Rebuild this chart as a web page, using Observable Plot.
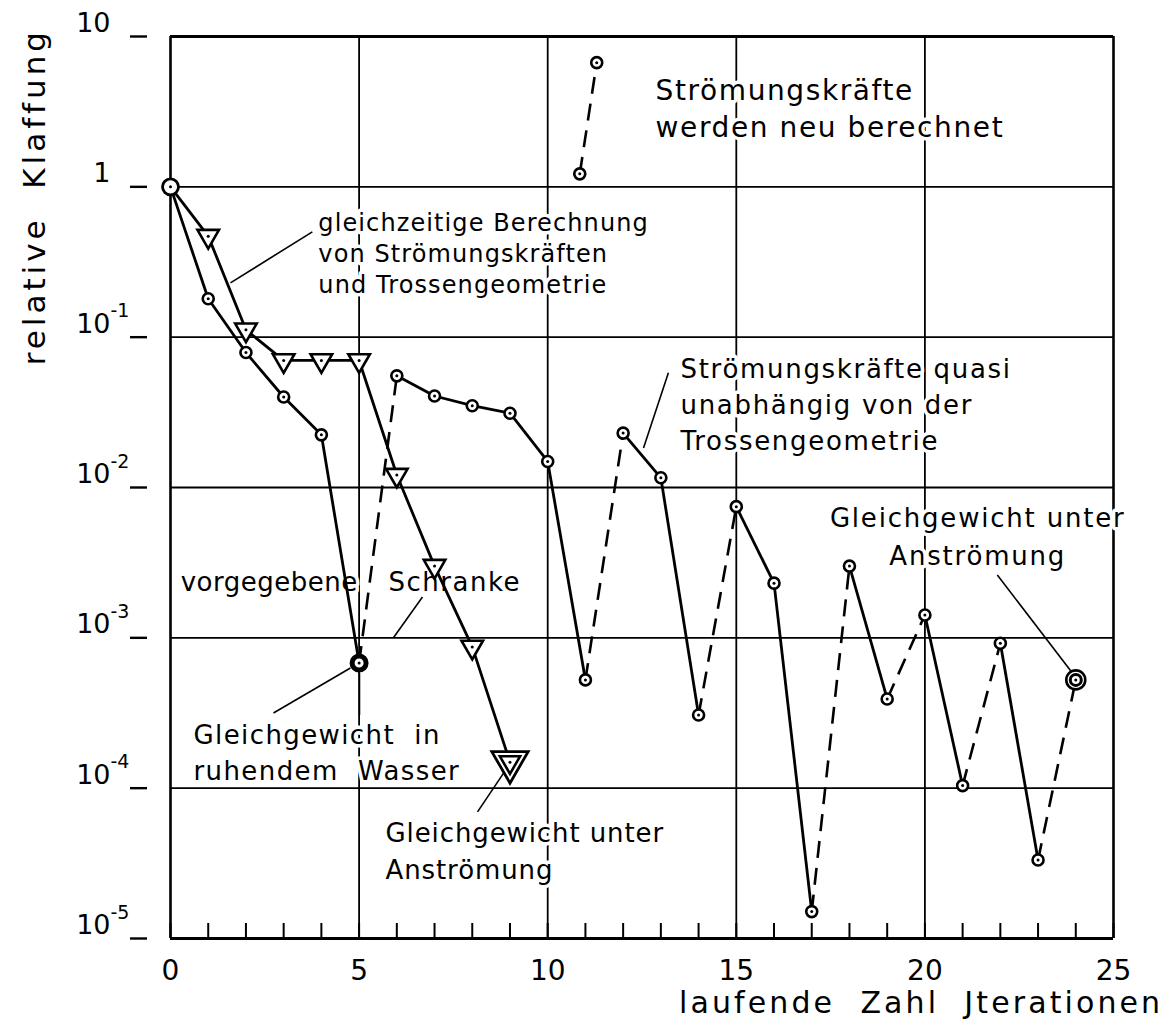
<!DOCTYPE html>
<html><head><meta charset="utf-8">
<script src="https://cdn.jsdelivr.net/npm/d3@7"></script>
<script src="https://cdn.jsdelivr.net/npm/@observablehq/plot@0.6"></script>
<style>
body{margin:0;background:#fff}
g[aria-description="ann-top"] text{letter-spacing:1.6px}
g[aria-description="ann-coupled"] text{letter-spacing:1.1px}
g[aria-description="ann-quasi"] text{letter-spacing:1.7px}
g[aria-description="ann-eq-right"] text{letter-spacing:1.8px}
g[aria-description="ann-vorg"] text{letter-spacing:0.5px}
g[aria-description="ann-schranke"] text{letter-spacing:1.5px}
g[aria-description="ann-ruhend"] text{letter-spacing:1.4px}
g[aria-description="ann-eq-low"] text{letter-spacing:0.9px}
g[aria-description="title-y"] text{letter-spacing:4px}
g[aria-description="title-x"] text{letter-spacing:3.1px}
</style>
</head><body><div id="chart"></div>
<script>
// ---- data ----
const iterStill = [0, 1, 2, 3, 4, 5];
const klaffStill = [1, 0.18, 0.079, 0.040, 0.0224, 0.00068];

const iterCoupled = [0, 1, 2, 3, 4, 5, 6, 7, 8, 9];
const klaffCoupled = [1, 0.47, 0.112, 0.070, 0.070, 0.070, 0.0121, 0.0030, 0.00087, 0.000149];

const iterFlow = [5, 6, 7, 8, 9, 10, 11, 12, 13, 14, 15, 16, 17, 18, 19, 20, 21, 22, 23, 24];
const klaffFlow = [0.00068, 0.0553, 0.0406, 0.035, 0.0312, 0.0149, 0.000525, 0.023, 0.0116, 0.000307,
                   0.00746, 0.00231, 0.0000151, 0.0030, 0.000392, 0.00142, 0.000104, 0.00092, 0.0000333, 0.000525];

const iterRecalc = [10.85, 11.3];
const klaffRecalc = [1.22, 6.7];

const xGrid = [0, 5, 10, 15, 20, 25];
const xTickLabels = ["0", "5", "10", "15", "20", "25"];
const xMinorTicks = [0,1,2,3,4,5,6,7,8,9,10,11,12,13,14,15,16,17,18,19,20,21,22,23,24,25];
const yTicks = [10, 1, 0.1, 0.01, 0.001, 0.0001, 0.00001];
const yTickBase = ["10", "1", "10", "10", "10", "10", "10"];
const yTickExp = ["", "", "-1", "-2", "-3", "-4", "-5"];

// ---- helpers ----
const pts = (xs, ys) => xs.map((x, i) => ({x, y: ys[i]}));
const segs = (p) => p.slice(1).map((d, i) => ({x1: p[i].x, y1: p[i].y, x2: d.x, y2: d.y}));

const still = pts(iterStill, klaffStill);
const coupled = pts(iterCoupled, klaffCoupled);
const flow = pts(iterFlow, klaffFlow);
const recalc = pts(iterRecalc, klaffRecalc);
const flowSegs = segs(flow);
const flowUp = flowSegs.filter(s => s.y2 > s.y1);
const flowDown = flowSegs.filter(s => s.y2 <= s.y1);

const F = "DejaVu Sans";
const ann = (data, o) => Plot.text(data, {fontFamily: F, fill: "black", stroke: "white", strokeWidth: 7,
  paintOrder: "stroke", lineAnchor: "middle", textAnchor: "start", ...o});

const chart = Plot.plot({
  width: 1174, height: 1030,
  marginLeft: 170, marginRight: 61, marginTop: 36, marginBottom: 92,
  style: {fontFamily: F, background: "white", color: "black"},
  x: {domain: [0, 25], axis: null},
  y: {type: "log", domain: [0.00001, 10], axis: null},
  marks: [
    // grid & frame
    Plot.ruleX(xGrid, {x: d => d, stroke: "black", strokeWidth: d => (d === 0 || d === 25) ? 2.6 : 1.8}),
    Plot.ruleY(yTicks, {y: d => d, stroke: "black", strokeWidth: d => (d === 10 || d === 0.00001) ? 2.8 : 1.8}),
    // axis ticks
    Plot.ruleX(xMinorTicks, {x: d => d, y1: 0.00001, y2: 0.00001, insetTop: -15, stroke: "black", strokeWidth: 2}),
    Plot.ruleY(yTicks, {y: d => d, x1: 0, x2: 0, insetLeft: -40, insetRight: 23, stroke: "black", strokeWidth: 2.4}),
    Plot.text(yTicks, {x: 0, y: d => d, text: (d, i) => yTickBase[i], textAnchor: "end", dx: -60, dy: -13,
      fontSize: 27, fontFamily: F}),
    Plot.text(yTicks, {x: 0, y: d => d, text: (d, i) => yTickExp[i], textAnchor: "start", dx: -60, dy: -26,
      fontSize: 19, fontFamily: F}),
    Plot.text(xGrid, {x: d => d, y: 0.00001, text: (d, i) => xTickLabels[i], dy: 33, fontSize: 28, fontFamily: F}),
    // axis titles
    Plot.text(["relative  Klaffung"], {x: -3.6, y: 0.86, rotate: -90, fontSize: 31, fontFamily: F, ariaDescription: "title-y"}),
    Plot.text(["laufende  Zahl  Jterationen"], {x: 19.9, y: 0.0000037, fontSize: 30, fontFamily: F, ariaDescription: "title-x"}),

    // annotations
    ann(["Strömungskräfte\nwerden neu berechnet"], {x: 12.86, y: 3.4, fontSize: 28, lineHeight: 1.32, ariaDescription: "ann-top"}),
    ann(["gleichzeitige Berechnung\nvon Strömungskräften\nund Trossengeometrie"], {x: 3.92, y: 0.37, fontSize: 24, lineHeight: 1.3, ariaDescription: "ann-coupled"}),
    ann(["Strömungskräfte quasi\nunabhängig von der\nTrossengeometrie"], {x: 13.52, y: 0.0366, fontSize: 26, lineHeight: 1.38, ariaDescription: "ann-quasi"}),
    ann(["Gleichgewicht unter\nAnströmung"], {x: 21.4, y: 0.00491, textAnchor: "middle", fontSize: 26, lineHeight: 1.46, ariaDescription: "ann-eq-right"}),
    ann(["vorgegebene"], {x: 0.27, y: 0.00232, fontSize: 26, ariaDescription: "ann-vorg"}),
    ann(["Schranke"], {x: 5.78, y: 0.00232, fontSize: 26, ariaDescription: "ann-schranke"}),
    ann(["Gleichgewicht  in\nruhendem  Wasser"], {x: 0.61, y: 0.000179, fontSize: 26, lineHeight: 1.42, ariaDescription: "ann-ruhend"}),
    ann(["Gleichgewicht unter\nAnströmung"], {x: 5.70, y: 0.0000394, fontSize: 26, lineHeight: 1.42, ariaDescription: "ann-eq-low"}),

    // leader lines
    Plot.link([
      {x1: 3.76, y1: 0.502, x2: 1.59, y2: 0.2297},
      {x1: 13.2, y1: 0.0579, x2: 12.54, y2: 0.01834},
      {x1: 6.68, y1: 0.00187, x2: 5.91, y2: 0.001},
      {x1: 2.73, y1: 0.000316, x2: 4.77, y2: 0.00063},
      {x1: 5.01, y1: 0.000584, x2: 5.01, y2: 0.000307},
      {x1: 8.14, y1: 0.0000695, x2: 8.83, y2: 0.000126},
      {x1: 21.92, y1: 0.00262, x2: 23.91, y2: 0.000584}
    ], {x1: "x1", y1: "y1", x2: "x2", y2: "y2", stroke: "black", strokeWidth: 1.6}),

    // data lines
    Plot.line(still, {x: "x", y: "y", stroke: "black", strokeWidth: 2.8}),
    Plot.line(coupled, {x: "x", y: "y", stroke: "black", strokeWidth: 2.8}),
    Plot.link(flowDown, {x1: "x1", y1: "y1", x2: "x2", y2: "y2", stroke: "black", strokeWidth: 2.8}),
    Plot.link(flowUp, {x1: "x1", y1: "y1", x2: "x2", y2: "y2", stroke: "black", strokeWidth: 2.6, strokeDasharray: "17,10"}),
    Plot.link(segs(recalc), {x1: "x1", y1: "y1", x2: "x2", y2: "y2", stroke: "black", strokeWidth: 2.6, strokeDasharray: "17,10"}),

    // markers: coupled (triangles)
    Plot.dot(coupled.slice(1, -1), {x: "x", y: "y", symbol: "triangle", rotate: 180, r: 8, fill: "white", stroke: "black", strokeWidth: 2.6}),
    Plot.dot(coupled.slice(-1), {x: "x", y: "y", symbol: "triangle", rotate: 180, r: 13.5, fill: "white", stroke: "black", strokeWidth: 2.8}),
    Plot.dot(coupled.slice(-1), {x: "x", y: "y", symbol: "triangle", rotate: 180, r: 7.5, fill: "white", stroke: "black", strokeWidth: 2.6}),
    Plot.dot(coupled.slice(1), {x: "x", y: "y", r: 1.5, fill: "black"}),
    // markers: circles
    Plot.dot(still.slice(1, -1), {x: "x", y: "y", r: 5.5, fill: "white", stroke: "black", strokeWidth: 2.6}),
    Plot.dot(flow.slice(1, -1), {x: "x", y: "y", r: 5.5, fill: "white", stroke: "black", strokeWidth: 2.6}),
    Plot.dot(recalc, {x: "x", y: "y", r: 5.5, fill: "white", stroke: "black", strokeWidth: 2.6}),
    Plot.dot(still.slice(0, 1), {x: "x", y: "y", r: 8, fill: "white", stroke: "black", strokeWidth: 2.8}),
    Plot.dot(still.slice(-1), {x: "x", y: "y", r: 7, fill: "white", stroke: "black", strokeWidth: 5}),
    Plot.dot(flow.slice(-1), {x: "x", y: "y", r: 9.5, fill: "white", stroke: "black", strokeWidth: 2.6}),
    Plot.dot(flow.slice(-1), {x: "x", y: "y", r: 5.5, fill: "white", stroke: "black", strokeWidth: 3}),
    Plot.dot([...still, ...flow.slice(1), ...recalc], {x: "x", y: "y", r: 1.5, fill: "black"})
  ]
});
document.getElementById("chart").append(chart);
</script>
</body></html>
